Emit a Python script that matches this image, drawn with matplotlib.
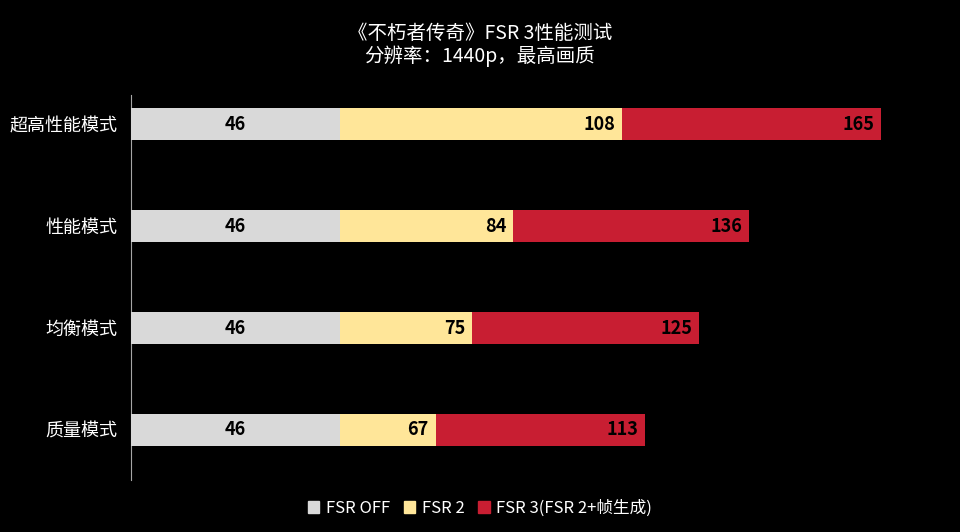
import matplotlib
matplotlib.use("Agg")
import matplotlib.pyplot as plt
from matplotlib.patches import Patch

plt.rcParams['font.family'] = ['Noto Sans CJK SC', 'DejaVu Sans']

modes = ["超高性能模式", "性能模式", "均衡模式", "质量模式"]
fsr_off = [46, 46, 46, 46]
fsr2 = [108, 84, 75, 67]
fsr3 = [165, 136, 125, 113]
series_names = ["FSR OFF", "FSR 2", "FSR 3(FSR 2+帧生成)"]
colors = ["#D9D9D9", "#FFE699", "#C81E32"]

fig = plt.figure(figsize=(9.6, 5.32), dpi=100, facecolor="black")
ax = fig.add_axes([0.1365, 0.098, 0.843, 0.724], facecolor="black")

ypos = [3 - i for i in range(len(modes))]
h = 0.31
# bars overlap from zero, largest behind
ax.barh(ypos, fsr3, height=h, color=colors[2], zorder=1)
ax.barh(ypos, fsr2, height=h, color=colors[1], zorder=2)
ax.barh(ypos, fsr_off, height=h, color=colors[0], zorder=3)

for y, a, b, c in zip(ypos, fsr_off, fsr2, fsr3):
    ax.text(a / 2, y, str(a), ha="center", va="center", fontsize=13,
            fontweight="bold", color="black", zorder=5)
    ax.text(b - 1.5, y, str(b), ha="right", va="center", fontsize=13,
            fontweight="bold", color="black", zorder=5)
    ax.text(c - 1.5, y, str(c), ha="right", va="center", fontsize=13,
            fontweight="bold", color="black", zorder=5)

ax.set_xlim(0, 178)
ax.set_ylim(-0.49, 3.29)
ax.set_yticks(ypos)
ax.set_yticklabels(modes, color="white", fontsize=13)
ax.set_xticks([])
ax.tick_params(axis="y", length=0, pad=10)
for s in ["top", "right", "bottom"]:
    ax.spines[s].set_visible(False)
ax.spines["left"].set_color("#A6A6A6")

fig.text(0.5, 0.915, "《不朽者传奇》FSR 3性能测试\n分辨率：1440p，最高画质",
         ha="center", va="center", color="white", fontsize=14, linespacing=1.1)

handles = [Patch(color=c) for c in colors]
fig.legend(handles, series_names, loc="center", bbox_to_anchor=(0.5, 0.045),
           ncol=3, frameon=False, fontsize=12, labelcolor="white",
           handlelength=0.7, handleheight=0.7, columnspacing=0.8, handletextpad=0.4)

fig.savefig("out.png", dpi=100, facecolor="black")
